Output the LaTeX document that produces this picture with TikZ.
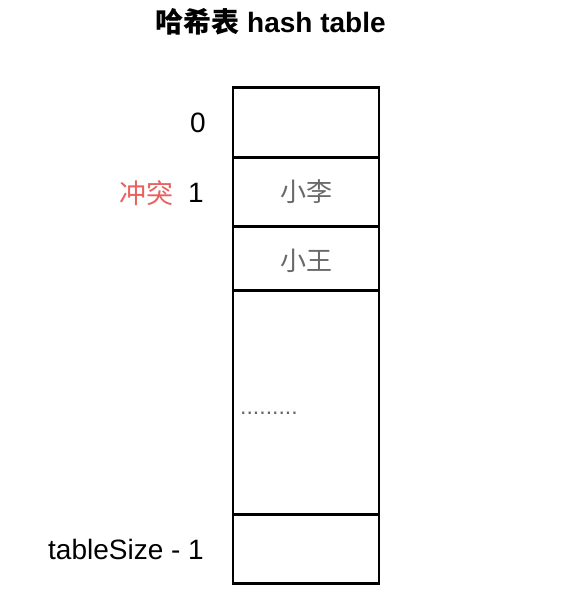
\documentclass[tikz,border=0pt]{standalone}
\usepackage{fontspec}
\setmainfont{Liberation Sans}
\newfontfamily\cjk{Noto Sans CJK SC}
\definecolor{conflictred}{RGB}{232,96,96}
\definecolor{namegray}{RGB}{105,105,105}
\begin{document}
\begin{tikzpicture}[x=1pt,y=-1pt,
  cell/.style={draw=black,line width=2.6pt,minimum width=146pt,inner sep=0pt,rectangle,anchor=north},
  lab/.style={font=\fontsize{28}{30}\selectfont,inner sep=0pt},
  idx/.style={lab,anchor=east},
  namelbl/.style={font=\cjk\fontsize{26}{30}\selectfont,text=namegray,inner sep=0pt}]
\useasboundingbox[fill=white] (0,0) rectangle (561,613);
\node[font=\fontsize{28}{32}\selectfont\bfseries,inner sep=0pt] (title) at (270.5,22) {{\cjk 哈希表} hash table};
\node[cell,minimum height=70pt] (c0) at (306,86) {};
\node[cell,minimum height=69pt] (c1) at (306,156) {};
\node[cell,minimum height=64pt] (c2) at (306,225) {};
\node[cell,minimum height=224pt] (c3) at (306,289) {};
\node[cell,minimum height=69pt] (c4) at (306,513) {};
\node[idx] (i0) at (206,123) {0};
\node[idx] (i1) at (204,193) {1};
\node[idx] (iN) at (204,549) {tableSize - 1};
\node[font=\cjk\fontsize{27}{30}\selectfont,text=conflictred,inner sep=0pt] (conf) at (146,193) {冲突};
\node[namelbl] (n1) at (306,192) {小李};
\node[namelbl] (n2) at (306,261) {小王};
\node[font=\fontsize{23}{26}\selectfont,text=namegray,inner sep=0pt,anchor=west] (dots) at (240,413) {.........};
\end{tikzpicture}
\end{document}
